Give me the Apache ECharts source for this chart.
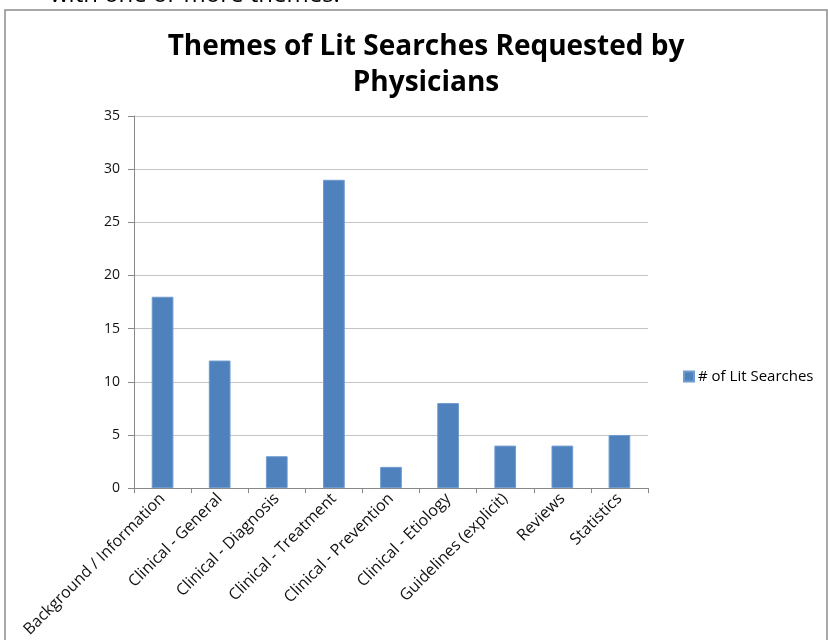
<!DOCTYPE html>
<html><head><meta charset="utf-8">
<script src="https://cdn.jsdelivr.net/npm/echarts@6/dist/echarts.min.js"></script>
<style>html,body{margin:0;padding:0;background:#fff}#c{width:828px;height:640px}</style>
</head><body><div id="c"></div>
<script>
const categories = ["Background / Information","Clinical - General","Clinical - Diagnosis","Clinical - Treatment","Clinical - Prevention","Clinical - Etiology","Guidelines (explicit)","Reviews","Statistics"];
const values = [18,12,3,29,2,8,4,4,5];
const seriesName = "# of Lit Searches";
const titleText = "Themes of Lit Searches Requested by\nPhysicians";
const captionText = "with one or more themes.";
const FONT = "'Open Sans', 'Noto Sans', sans-serif";
const chart = echarts.init(document.getElementById('c'));
chart.setOption({
  animation:false,
  backgroundColor:'#fff',
  graphic:[
    {type:'rect', shape:{x:5,y:10,width:822,height:640}, style:{fill:'none',stroke:'#8c8c8c',lineWidth:1.5}, silent:true},
    {type:'text', x:50, y:7, style:{text:captionText, font:"24px 'Open Sans', sans-serif", fill:'#000', verticalAlign:'bottom', align:'left'}, silent:true}
  ],
  title:{text:titleText, left:421, top:24, textAlign:'center',
    textStyle:{fontFamily:FONT, fontWeight:'bold', fontSize:28, lineHeight:36, color:'#000'}},
  legend:{show:true, left:678, top:364, itemWidth:10, itemHeight:10, itemGap:4,
    textStyle:{fontFamily:FONT, fontSize:15, color:'#000', padding:[0,0,0,-1]},
    data:[{name:seriesName, icon:'rect'}]},
  grid:{left:134, right:180, top:116, bottom:151},
  xAxis:{type:'category', data:categories, boundaryGap:true,
    axisLine:{lineStyle:{color:'#888', width:1}},
    axisTick:{show:true, alignWithLabel:false, length:5, lineStyle:{color:'#888'}},
    axisLabel:{rotate:45, interval:0, margin:8, fontFamily:FONT, fontSize:16, color:'#111'}},
  yAxis:{type:'value', min:0, max:35, interval:5,
    axisLine:{show:true, lineStyle:{color:'#888', width:1}},
    axisTick:{show:true, length:6, lineStyle:{color:'#888'}},
    splitLine:{lineStyle:{color:'#c4c4c4', width:1}},
    axisLabel:{margin:14, fontFamily:FONT, fontSize:14, color:'#111'}},
  series:[{name:seriesName, type:'bar', data:values, barWidth:'38%',
    itemStyle:{color:'#4f81bd', borderColor:'#6f9bd0', borderWidth:1}}]
});
</script></body></html>
